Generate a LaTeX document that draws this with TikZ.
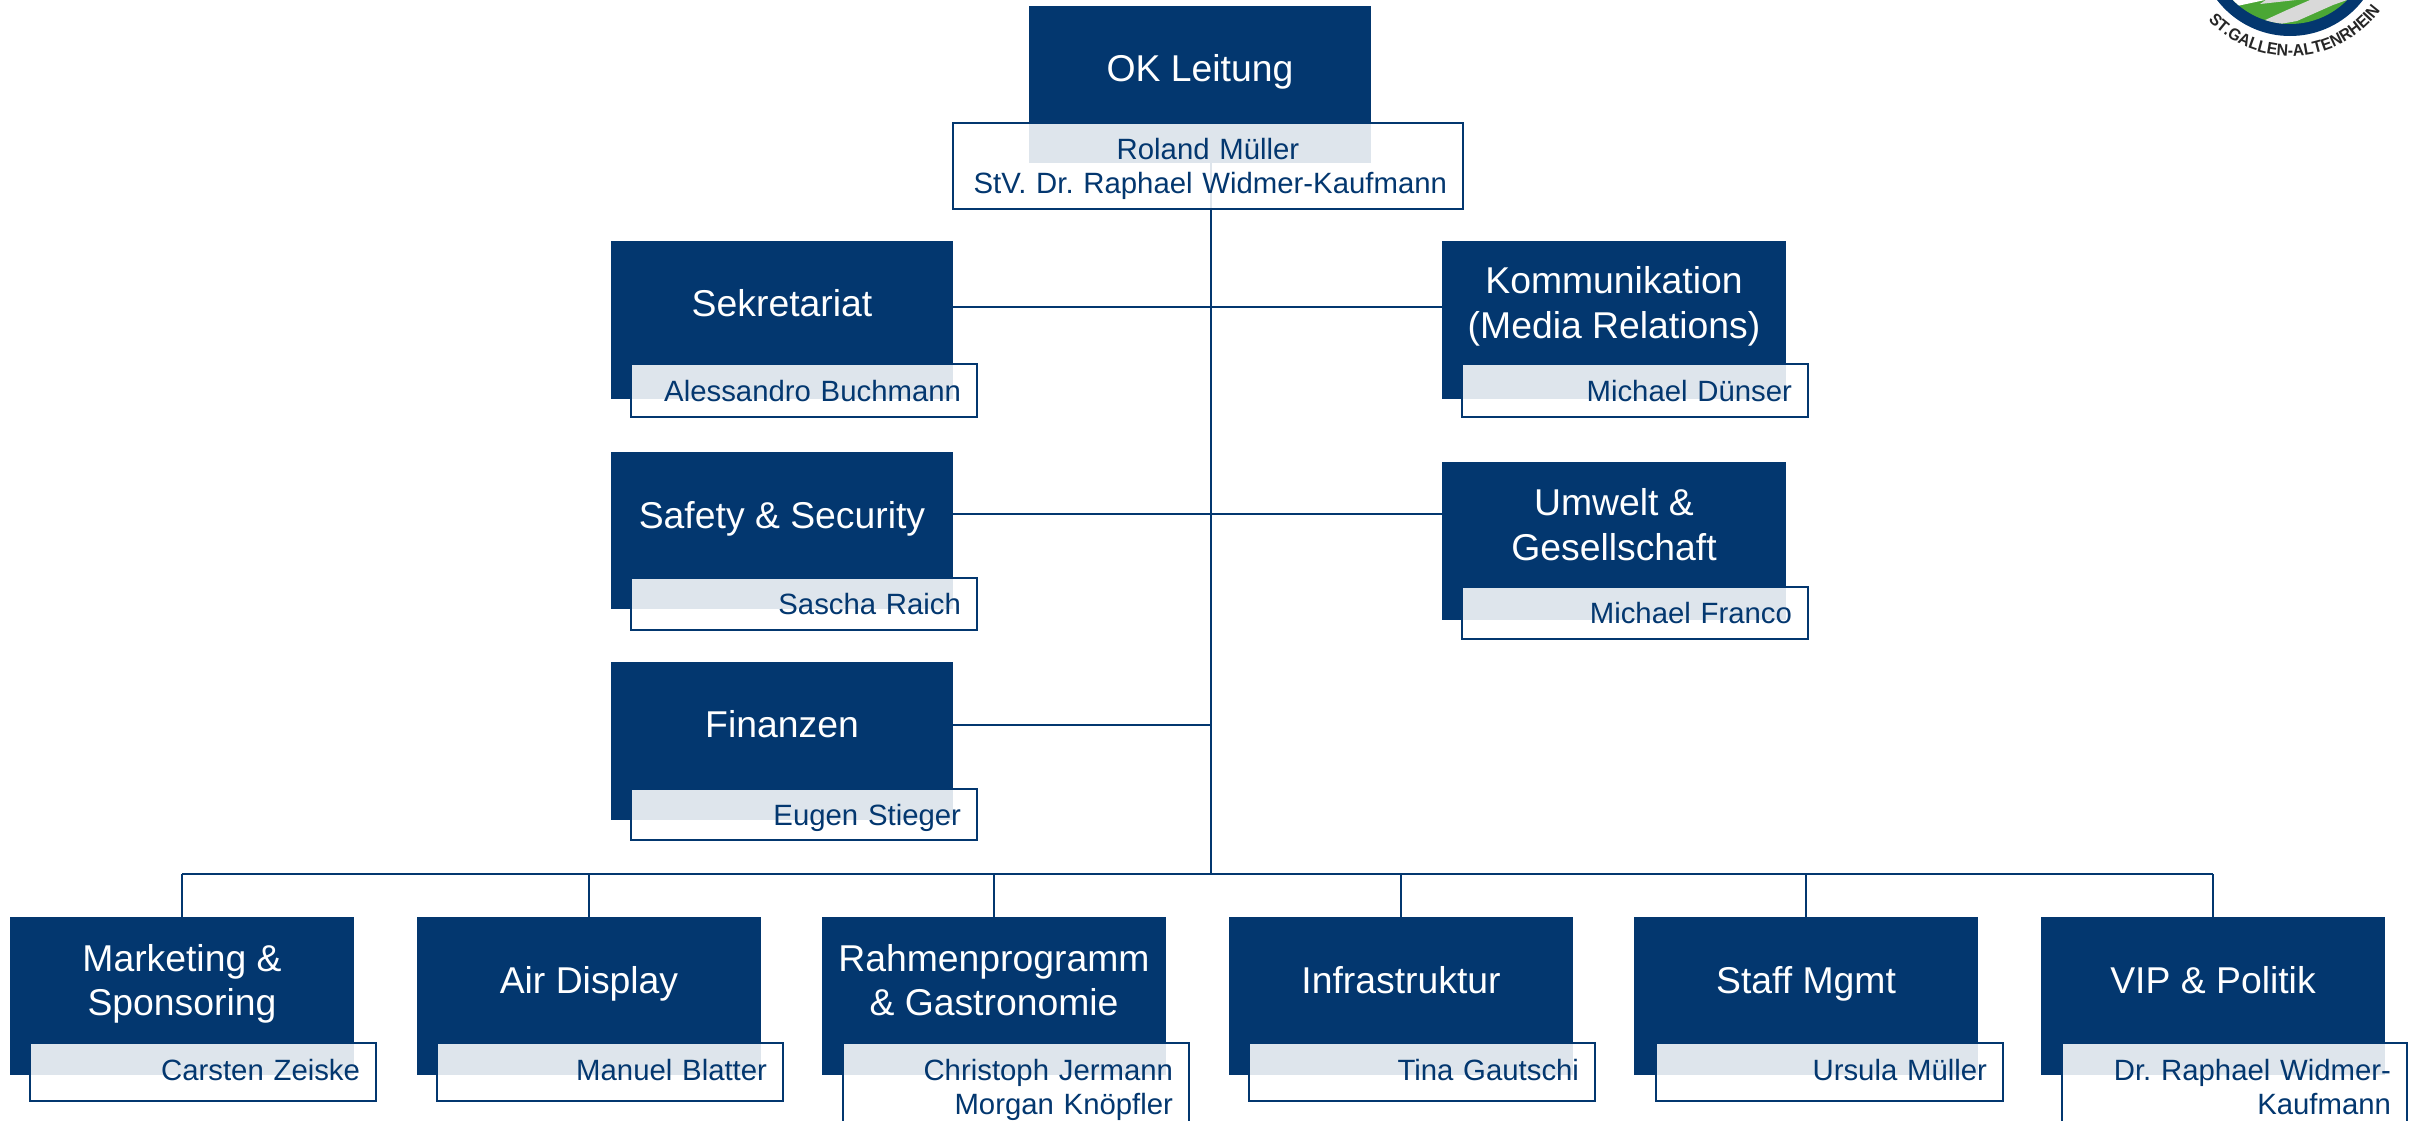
\documentclass[tikz,border=0pt]{standalone}
\usepackage{fontspec}
\setmainfont{Liberation Sans}
\newfontfamily\logofont[FakeStretch=0.95]{Liberation Sans}
\usetikzlibrary{decorations.text}
\definecolor{okblue}{HTML}{03376F}
\definecolor{oklogogreen}{HTML}{4BA735}
\definecolor{oklogogray}{HTML}{D9D9D9}
\frenchspacing
\def\namedepth{0pt}
\def\titledrop{0}
\tikzset{
  darkbox/.style={draw=none,fill=okblue,inner sep=0pt,outer sep=0pt,anchor=north west},
  titletext/.style={text=white,align=center,inner sep=0pt,text depth=0pt,font=\frenchspacing\fontsize{28}{33.4}\selectfont},
  namebox/.style={draw=okblue,line width=1.5pt,outer sep=0pt,fill=white,fill opacity=.87,text opacity=1,draw opacity=1,
    text=okblue,align=right,inner ysep=0pt,inner xsep=12pt,text depth=\namedepth,anchor=north west,font=\frenchspacing\fontsize{22}{25.5}\selectfont},
  link/.style={draw=okblue,line width=1.5pt},
}
% id, x0, y0, x1, y1, name x0, name y0, name x1, name y1 / title, person
\newcommand{\orgunit}[9]{%
  \def\uid{#1}\def\ua{#2}\def\ub{#3}\def\uc{#4}\def\ud{#5}\def\ue{#6}\def\uf{#7}\def\ug{#8}\def\uh{#9}\orgunitB}
\newcommand{\orgunitB}[2]{%
  \pgfmathsetmacro{\uw}{(\uc-\ua)*.75}\pgfmathsetmacro{\uhh}{(\ud-\ub)*.75}%
  \pgfmathsetmacro{\nw}{(\ug-\ue)*.75}\pgfmathsetmacro{\nhh}{(\uh-\uf)*.75}%
  \pgfmathsetmacro{\tx}{(\ua+\uc)/2}\pgfmathsetmacro{\ty}{(\ub+\uf)/2+\titledrop}%
  \node[darkbox,minimum width=\uw pt,minimum height=\uhh pt] (\uid) at (\ua,\ub) {};
  \node[titletext] (\uid-title) at (\tx,\ty) {#1};
  \node[namebox,minimum width=\nw pt,minimum height=\nhh pt,text width=\nw pt-24pt] (\uid-name) at (\ue,\uf) {#2};
}
\begin{document}
\begin{tikzpicture}[x=.75pt,y=-.75pt]
\useasboundingbox (0,0) rectangle (2425,1121);
\clip (0,0) rectangle (2425,1121);
% logo
\fill[okblue] (2290,-56) circle (92);
\begin{scope}
  \clip (2290,-56) circle (80);
  \fill[oklogogreen] (2200,-60) rectangle (2380,40);
  \fill[oklogogray] (2263,21) -- (2280,24) -- (2297,21) -- (2333,5) -- (2347,0) -- (2310,0) -- (2287,10) -- cycle;
  \fill[white] (2237,6) -- (2265,0) -- (2250,-3) -- (2232,0) -- cycle;
  \fill[oklogogray] (2260,4) -- (2296,0) -- (2270,-3) -- cycle;
\end{scope}
\begin{scope}[shift={(2290,-56)},x=.75pt,y=.75pt]
  \path[postaction={decorate,decoration={text along path,text align={left},
      text={|\logofont\fontsize{12.5}{13}\bfseries\selectfont\color{black!85}|ST.GALLEN-ALTENRHEIN}}}]
    (223:112) arc[start angle=223,end angle=345,radius=112];
\end{scope}
% connectors, behind the boxes
\coordinate (trunktop) at (1211,163);
\coordinate (bus) at (1211,874);
\coordinate (sekjoin) at (953,307);
\coordinate (komjoin) at (1442,307);
\coordinate (safjoin) at (953,514);
\coordinate (umwjoin) at (1442,514);
\coordinate (finjoin) at (953,725);
\coordinate (trunkfin) at (1211,725);
\draw[link] (trunktop) -- (bus);
\draw[link] (sekjoin) -- (komjoin);
\draw[link] (safjoin) -- (umwjoin);
\draw[link] (finjoin) -- (trunkfin);
% boxes
\def\namedepth{25.5pt}
\def\titledrop{3.5}
\orgunit{ok}{1029}{6}{1371}{163}{953}{123}{1463}{209}{OK Leitung}{\centering Roland Müller\\StV. Dr. Raphael Widmer-Kaufmann}
\def\titledrop{0}
\def\namedepth{0pt}
\orgunit{sek}{611}{241}{953}{399}{631}{364}{977}{417}{Sekretariat}{Alessandro Buchmann}
\orgunit{saf}{611}{452}{953}{609}{631}{578}{977}{630}{Safety \& Security}{Sascha Raich}
\def\titledrop{-2}
\orgunit{fin}{611}{662}{953}{820}{631}{789}{977}{840}{Finanzen}{Eugen Stieger}
\def\titledrop{0}
\orgunit{kom}{1442}{241}{1786}{399}{1462}{364}{1808}{417}{Kommunikation\\(Media Relations)}{Michael Dünser}
\orgunit{umw}{1442}{462}{1786}{620}{1462}{587}{1808}{639}{Umwelt \&\\Gesellschaft}{Michael Franco}
\def\namedepth{3pt}
\orgunit{mar}{10}{917}{354}{1075}{30}{1043}{376}{1101}{Marketing \&\\Sponsoring}{Carsten Zeiske}
\orgunit{air}{417}{917}{761}{1075}{437}{1043}{783}{1101}{Air Display}{Manuel Blatter}
\orgunit{inf}{1229}{917}{1573}{1075}{1249}{1043}{1595}{1101}{Infrastruktur}{Tina Gautschi}
\orgunit{sta}{1634}{917}{1978}{1075}{1656}{1043}{2003}{1101}{Staff Mgmt}{Ursula Müller}
\def\namedepth{28.5pt}
\orgunit{rah}{822}{917}{1166}{1075}{843}{1043}{1189}{1135}{Rahmenprogramm\\\& Gastronomie}{Christoph Jermann\\Morgan Knöpfler}
\orgunit{vip}{2041}{917}{2385}{1075}{2062}{1043}{2407}{1135}{VIP \& Politik}{Dr. Raphael Widmer-\\Kaufmann}
% bus and drops
\draw[link] (bus -| mar.north) -- (bus -| vip.north);
\foreach \u in {mar,air,rah,inf,sta,vip} \draw[link] (bus -| \u.north) -- (\u.north);
\end{tikzpicture}
\end{document}
